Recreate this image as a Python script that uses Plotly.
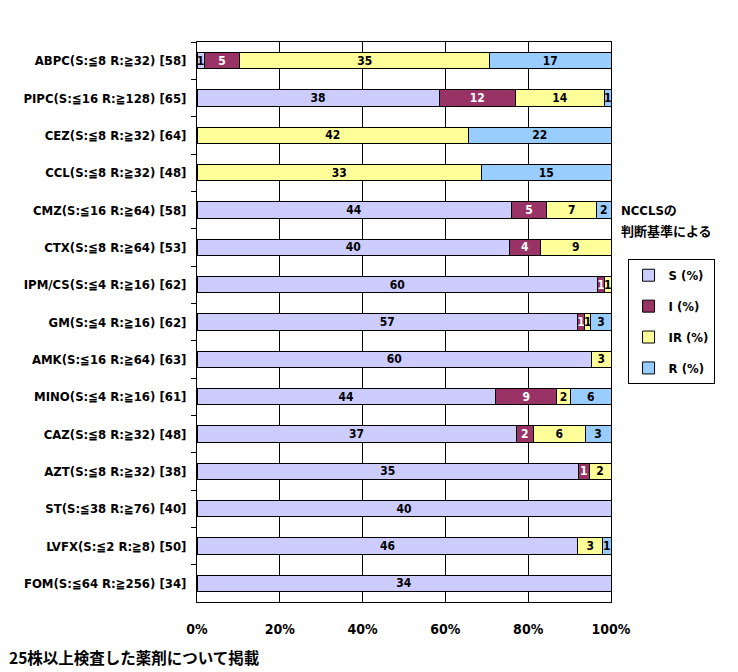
import plotly.graph_objects as go

categories = [
    "ABPC(S:≦8 R:≧32) [58]",
    "PIPC(S:≦16 R:≧128) [65]",
    "CEZ(S:≦8 R:≧32) [64]",
    "CCL(S:≦8 R:≧32) [48]",
    "CMZ(S:≦16 R:≧64) [58]",
    "CTX(S:≦8 R:≧64) [53]",
    "IPM/CS(S:≦4 R:≧16) [62]",
    "GM(S:≦4 R:≧16) [62]",
    "AMK(S:≦16 R:≧64) [63]",
    "MINO(S:≦4 R:≧16) [61]",
    "CAZ(S:≦8 R:≧32) [48]",
    "AZT(S:≦8 R:≧32) [38]",
    "ST(S:≦38 R:≧76) [40]",
    "LVFX(S:≦2 R:≧8) [50]",
    "FOM(S:≦64 R:≧256) [34]",
]
S_counts  = [1, 38, 0, 0, 44, 40, 60, 57, 60, 44, 37, 35, 40, 46, 34]
I_counts  = [5, 12, 0, 0, 5, 4, 1, 1, 0, 9, 2, 1, 0, 0, 0]
IR_counts = [35, 14, 42, 33, 7, 9, 1, 1, 3, 2, 6, 2, 0, 3, 0]
R_counts  = [17, 1, 22, 15, 2, 0, 0, 3, 0, 6, 3, 0, 0, 1, 0]
series_names = ["S (%)", "I (%)", "IR (%)", "R (%)"]
x_ticks = [0, 20, 40, 60, 80, 100]
x_tick_labels = ["0%", "20%", "40%", "60%", "80%", "100%"]

colors = ["#CCCCFF", "#993366", "#FFFF99", "#99CCFF"]
text_colors = ["black", "white", "black", "black"]
FONT = "DejaVu Sans Condensed, Noto Sans CJK JP, sans-serif"

all_series = [S_counts, I_counts, IR_counts, R_counts]
totals = [sum(v) for v in zip(*all_series)]

fig = go.Figure()
for i, (name, counts) in enumerate(zip(series_names, all_series)):
    pct = [c / t * 100 for c, t in zip(counts, totals)]
    fig.add_trace(go.Bar(
        y=categories, x=pct, orientation="h", name=name,
        marker=dict(color=colors[i], line=dict(color="black", width=1)),
        text=[str(c) if c else "" for c in counts],
        textposition="inside", insidetextanchor="middle", textangle=0,
        textfont=dict(color=text_colors[i], size=12, family=FONT, weight="bold"),
        legendgroup=name, hoverinfo="skip",
    ))

fig.update_layout(
    barmode="stack", bargap=0.56,
    width=722, height=664,
    margin=dict(l=189, r=119, t=34, b=70),
    plot_bgcolor="white", paper_bgcolor="white",
    font=dict(family=FONT, size=13, color="black", weight="bold"),
    uniformtext=dict(minsize=12, mode="show"),
    showlegend=True,
    legend=dict(
        x=1.04, y=0.612, xanchor="left", yanchor="top",
        traceorder="grouped", tracegroupgap=11,
        bordercolor="black", borderwidth=1, bgcolor="white",
        font=dict(size=13, family=FONT, weight="bold"),
    ),
    xaxis=dict(
        range=[0, 100], tickvals=x_ticks, ticktext=x_tick_labels,
        showgrid=True, gridcolor="black", gridwidth=1,
        showline=True, linecolor="black", linewidth=1, mirror=True,
        ticks="", ticklabelstandoff=14, zeroline=False,
        tickfont=dict(size=14, family=FONT, weight="bold"),
    ),
    yaxis=dict(
        autorange="reversed", type="category",
        showline=True, linecolor="black", linewidth=1, mirror=True,
        ticks="outside", tickson="boundaries", ticklen=5, tickcolor="black",
        showgrid=False, ticklabelstandoff=7,
        tickfont=dict(size=13, family=FONT, weight="bold"),
    ),
    annotations=[
        dict(text="NCCLSの", xref="paper", yref="paper", x=1.02, y=0.70,
             xanchor="left", yanchor="middle", showarrow=False,
             font=dict(size=13, family=FONT, weight="bold")),
        dict(text="判断基準による", xref="paper", yref="paper", x=1.02, y=0.661,
             xanchor="left", yanchor="middle", showarrow=False,
             font=dict(size=13, family=FONT, weight="bold")),
        dict(text="25株以上検査した薬剤について掲載", xref="paper", yref="paper",
             x=-0.46, y=-0.098, xanchor="left", yanchor="middle", showarrow=False,
             font=dict(size=15.5, family="Noto Sans CJK JP", weight="bold")),
    ],
)

fig.write_html("out.html")
